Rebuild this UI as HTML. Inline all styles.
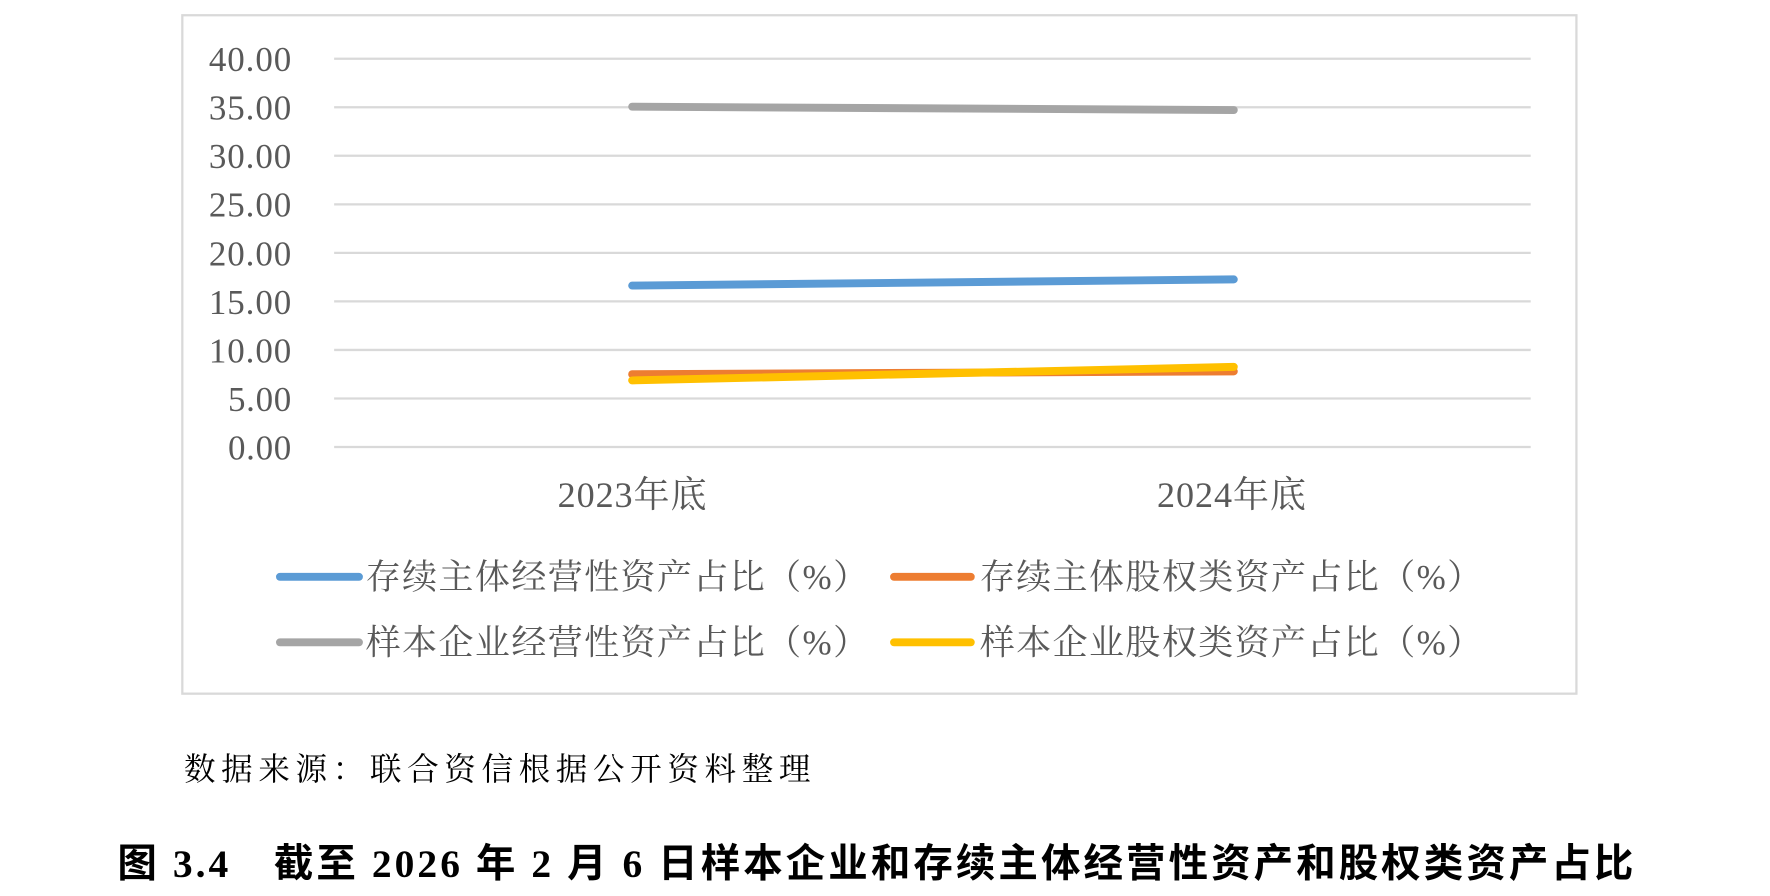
<!DOCTYPE html>
<html><head><meta charset="utf-8"><style>
html,body{margin:0;padding:0;background:#fff;width:1770px;height:896px;overflow:hidden}
#w{width:1568px;height:794px;transform:scale(1.12883);transform-origin:0 0;position:relative}
</style></head><body><div id="w">
<svg width="1568" height="794" xmlns="http://www.w3.org/2000/svg" font-family="'Liberation Serif','Noto Serif CJK SC',serif">
<rect x="161.5" y="13.5" width="1235" height="601" fill="#fff" stroke="#d9d9d9" stroke-width="2"/>
<g stroke="#d9d9d9" stroke-width="2">
<line x1="296" x2="1356" y1="52" y2="52"/><line x1="296" x2="1356" y1="95" y2="95"/>
<line x1="296" x2="1356" y1="138" y2="138"/><line x1="296" x2="1356" y1="181" y2="181"/>
<line x1="296" x2="1356" y1="224" y2="224"/><line x1="296" x2="1356" y1="267" y2="267"/>
<line x1="296" x2="1356" y1="310" y2="310"/><line x1="296" x2="1356" y1="353" y2="353"/>
<line x1="296" x2="1356" y1="396" y2="396"/></g>
<g fill="#595959" font-size="31" text-anchor="end">
<text x="258" y="63" textLength="73">40.00</text><text x="258" y="106" textLength="73">35.00</text><text x="258" y="149" textLength="73">30.00</text>
<text x="258" y="192" textLength="73">25.00</text><text x="258" y="235" textLength="73">20.00</text><text x="258" y="278" textLength="73">15.00</text>
<text x="258" y="321" textLength="73">10.00</text><text x="258" y="364" textLength="56">5.00</text><text x="258" y="407" textLength="56">0.00</text></g>
<g fill="#595959" font-size="32" text-anchor="middle">
<text x="560" y="449" textLength="132">2023年底</text><text x="1091" y="449" textLength="132">2024年底</text></g>
<g stroke-width="7" stroke-linecap="round" fill="none">
<line x1="560" y1="94.5" x2="1093" y2="97.5" stroke="#a5a5a5"/>
<line x1="560" y1="253" x2="1093" y2="247.5" stroke="#5b9bd5"/>
<line x1="560" y1="331.5" x2="1093" y2="329" stroke="#ed7d31"/>
<line x1="560" y1="337" x2="1093" y2="325" stroke="#ffc000"/>
<line x1="248" y1="511" x2="318" y2="511" stroke="#5b9bd5"/>
<line x1="792" y1="511" x2="860" y2="511" stroke="#ed7d31"/>
<line x1="248" y1="569" x2="318" y2="569" stroke="#a5a5a5"/>
<line x1="792" y1="569" x2="860" y2="569" stroke="#ffc000"/>
</g>
<g fill="#595959" font-size="31">
<text x="324" y="522" textLength="445">存续主体经营性资产占比（%）</text>
<text x="868" y="522" textLength="445">存续主体股权类资产占比（%）</text>
<text x="324" y="580" textLength="445">样本企业经营性资产占比（%）</text>
<text x="868" y="580" textLength="445">样本企业股权类资产占比（%）</text>
</g>
<text x="163" y="691" font-size="28" fill="#000" textLength="555">数据来源：联合资信根据公开资料整理</text>
<text x="104" y="777" font-size="35" fill="#000" font-weight="bold" font-family="'Liberation Serif','Noto Sans CJK SC',sans-serif" textLength="1343">图 3.4　截至 2026 年 2 月 6 日样本企业和存续主体经营性资产和股权类资产占比</text>
</svg></div></body></html>
